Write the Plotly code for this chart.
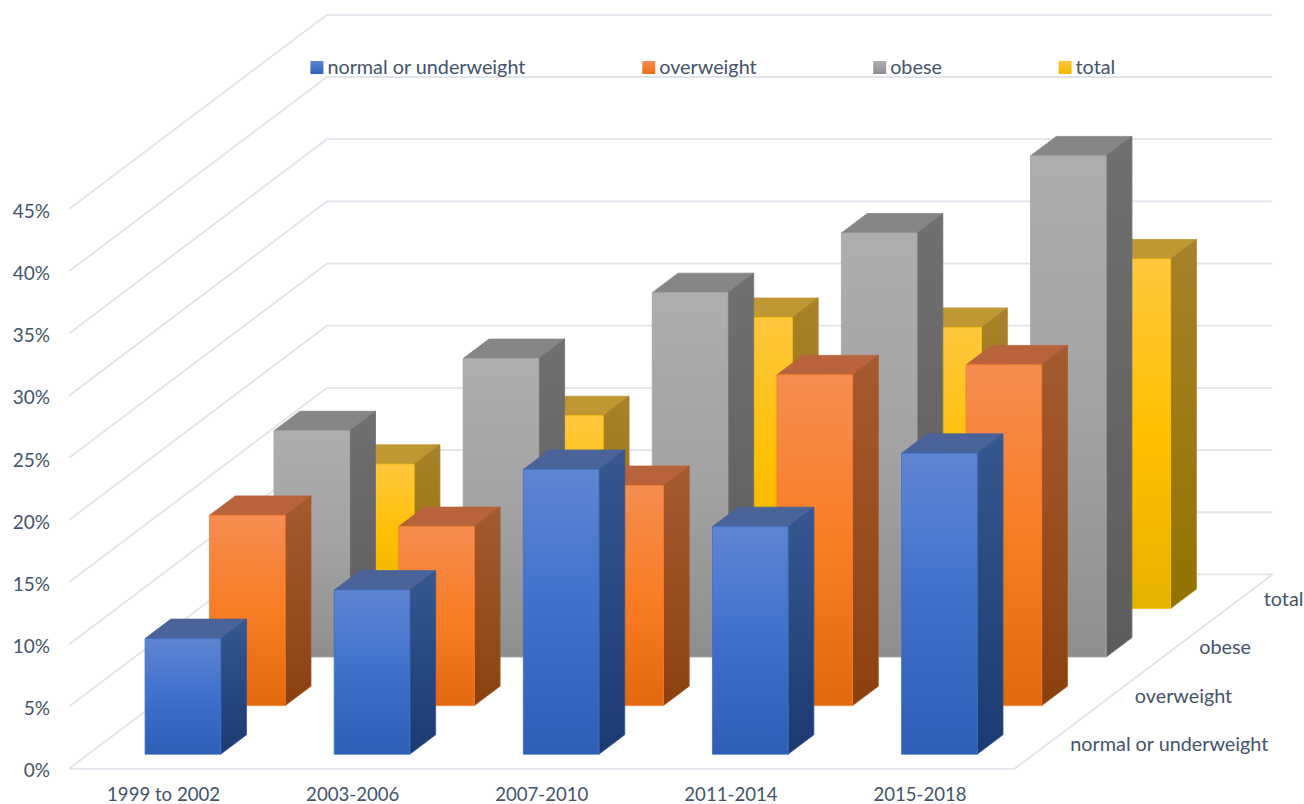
import plotly.graph_objects as go

# Obesity-class shares by survey period, in percent
periods = ["1999 to 2002", "2003-2006", "2007-2010", "2011-2014", "2015-2018"]
series_names = ["normal or underweight", "overweight", "obese", "total"]
normal_or_underweight = [9.3, 13.2, 22.9, 18.3, 24.2]
overweight = [15.3, 14.4, 17.7, 26.6, 27.4]
obese = [18.2, 24.0, 29.3, 34.1, 40.3]
total = [11.6, 15.5, 23.4, 22.6, 28.1]
series_values = [normal_or_underweight, overweight, obese, total]
pct_ticks = [0, 5, 10, 15, 20, 25, 30, 35, 40, 45]

# Face colours per series: front gradient (bottom to top), side gradient, top face
front_ramps = [
    ["#2D5FB6", "#3E70CC", "#6085D1"],
    ["#E2690F", "#F97D25", "#F58D52"],
    ["#8E8E8E", "#A3A3A3", "#AEAEAE"],
    ["#E6B200", "#FFC000", "#FFC73F"],
]
side_ramps = [
    ["#1C3A72", "#36578F"],
    ["#8B410E", "#A55B30"],
    ["#5C5C5C", "#707070"],
    ["#917200", "#A8812A"],
]
top_colors = ["#4A6399", "#B8633B", "#868686", "#BF9733"]
legend_colors = [["#2F62BC", "#5F84D1"], ["#EC7015", "#F58D52"], ["#8F8F8F", "#AEAEAE"], ["#F2B800", "#FFC73F"]]

TEXT = "#44546A"
GRID = "#E1E4EC"
FONT = "Lato"
LABEL_SIZE = 19.8
TICK_X_SIZE = 18.6
TICK_Y_SIZE = 19

# Pixel geometry of the plot frame, used to size the axes
WIDTH, HEIGHT = 1304, 804
LEFT, BASE_PX = 68.5, 769.0
PX_PER_CAT, PX_PER_PCT = 189.2, 12.44
BOTTOM_PCT = -0.5

# Oblique projection: each step back in depth shifts right and up
DEPTH_DX = 64.5 / PX_PER_CAT
DEPTH_DY = 48.6 / PX_PER_PCT
BAR_LO, BAR_HI = 0.3, 0.7


def project(cat, depth, value):
    return cat + depth * DEPTH_DX, value + depth * DEPTH_DY


def polygon(corners):
    pts = [project(*c) for c in corners]
    pts.append(pts[0])
    return [p[0] for p in pts], [p[1] for p in pts]


def ramp(colors):
    n = len(colors) - 1
    return [[i / n, c] for i, c in enumerate(colors)]


fig = go.Figure()

# Wall and floor gridlines
gx, gy = [], []
for v in pct_ticks:
    for c in [(0, 0, v), (0, 4, v), (5, 4, v)]:
        x, y = project(*c)
        gx.append(x)
        gy.append(y)
    gx.append(None)
    gy.append(None)
for c in [(0, 0, 0), (5, 0, 0), (5, 4, 0)]:
    x, y = project(*c)
    gx.append(x)
    gy.append(y)
fig.add_trace(go.Scatter(x=gx, y=gy, mode="lines", line=dict(color=GRID, width=1.8),
                         hoverinfo="skip", showlegend=False, cliponaxis=False))


def add_face(corners, fillgradient=None, color=None, edge=None, name=None):
    x, y = polygon(corners)
    kw = dict(fillgradient=fillgradient) if fillgradient else dict(fillcolor=color)
    fig.add_trace(go.Scatter(x=x, y=y, mode="lines", fill="toself",
                             line=dict(color=edge, width=0.8), showlegend=False,
                             name=name, hoverinfo="skip", **kw))


# Bars, painted from the back row to the front row
for s in reversed(range(len(series_names))):
    d0, d1 = s + BAR_LO, s + BAR_HI
    for p, value in enumerate(series_values[s]):
        c0, c1 = p + BAR_LO, p + BAR_HI
        add_face([(c0, d0, value), (c1, d0, value), (c1, d1, value), (c0, d1, value)],
                 color=top_colors[s], edge=top_colors[s], name=series_names[s])
        add_face([(c1, d0, 0), (c1, d1, 0), (c1, d1, value), (c1, d0, value)],
                 fillgradient=dict(type="vertical", colorscale=ramp(side_ramps[s])),
                 edge=side_ramps[s][1], name=series_names[s])
        add_face([(c0, d0, 0), (c1, d0, 0), (c1, d0, value), (c0, d0, value)],
                 fillgradient=dict(type="vertical", colorscale=ramp(front_ramps[s])),
                 edge=front_ramps[s][1], name=series_names[s])

# Series names along the right edge of the floor
label_x, label_y = [], []
for s in range(len(series_names)):
    x, y = project(5, s + 0.5, 0)
    label_x.append(x + 23.5 / PX_PER_CAT)
    label_y.append(y - 2 / PX_PER_PCT)
fig.add_trace(go.Scatter(x=label_x, y=label_y, mode="text", text=series_names,
                         textposition="middle right", cliponaxis=False,
                         textfont=dict(family=FONT, size=LABEL_SIZE, color=TEXT),
                         hoverinfo="skip", showlegend=False))

# Key across the top of the chart: swatch, then its name just to the right
key_px = [316.5, 648.5, 879.5, 1065.0]
key_py = 67.5
for name, px, colors in zip(series_names, key_px, legend_colors):
    fig.add_trace(go.Scatter(
        x=[(px - LEFT) / PX_PER_CAT], y=[(BASE_PX - key_py) / PX_PER_PCT],
        mode="markers",
        marker=dict(symbol="square", size=13, color=colors[1], line=dict(width=0),
                    gradient=dict(type="vertical", color=colors[0])),
        hoverinfo="skip", showlegend=False, cliponaxis=False))
    fig.add_trace(go.Scatter(
        x=[(px + 10.5 - LEFT) / PX_PER_CAT], y=[(BASE_PX - key_py - 1.5) / PX_PER_PCT],
        mode="text", text=[name], textposition="middle right",
        textfont=dict(family=FONT, size=LABEL_SIZE, color=TEXT),
        hoverinfo="skip", showlegend=False, cliponaxis=False))

fig.update_layout(
    width=WIDTH, height=HEIGHT, showlegend=False,
    margin=dict(l=LEFT, r=0, t=0, b=HEIGHT - (BASE_PX - BOTTOM_PCT * PX_PER_PCT), pad=0),
    paper_bgcolor="white", plot_bgcolor="white",
    font=dict(family=FONT, size=LABEL_SIZE, color=TEXT),
    xaxis=dict(range=[0, (WIDTH - LEFT) / PX_PER_CAT], tickvals=[i + 0.5 for i in range(5)],
               ticktext=periods, showgrid=False, zeroline=False, showline=False,
               ticks="", ticklabelstandoff=6, automargin=False,
               tickfont=dict(family=FONT, size=TICK_X_SIZE, color=TEXT)),
    yaxis=dict(range=[BOTTOM_PCT, BASE_PX / PX_PER_PCT], tickvals=pct_ticks,
               ticktext=[f"{v}%" for v in pct_ticks], showgrid=False, zeroline=False,
               showline=False, ticks="", ticklabelstandoff=18, ticklabelshift=2,
               automargin=False,
               tickfont=dict(family=FONT, size=TICK_Y_SIZE, color=TEXT)),
)

fig.write_html("out.html")
